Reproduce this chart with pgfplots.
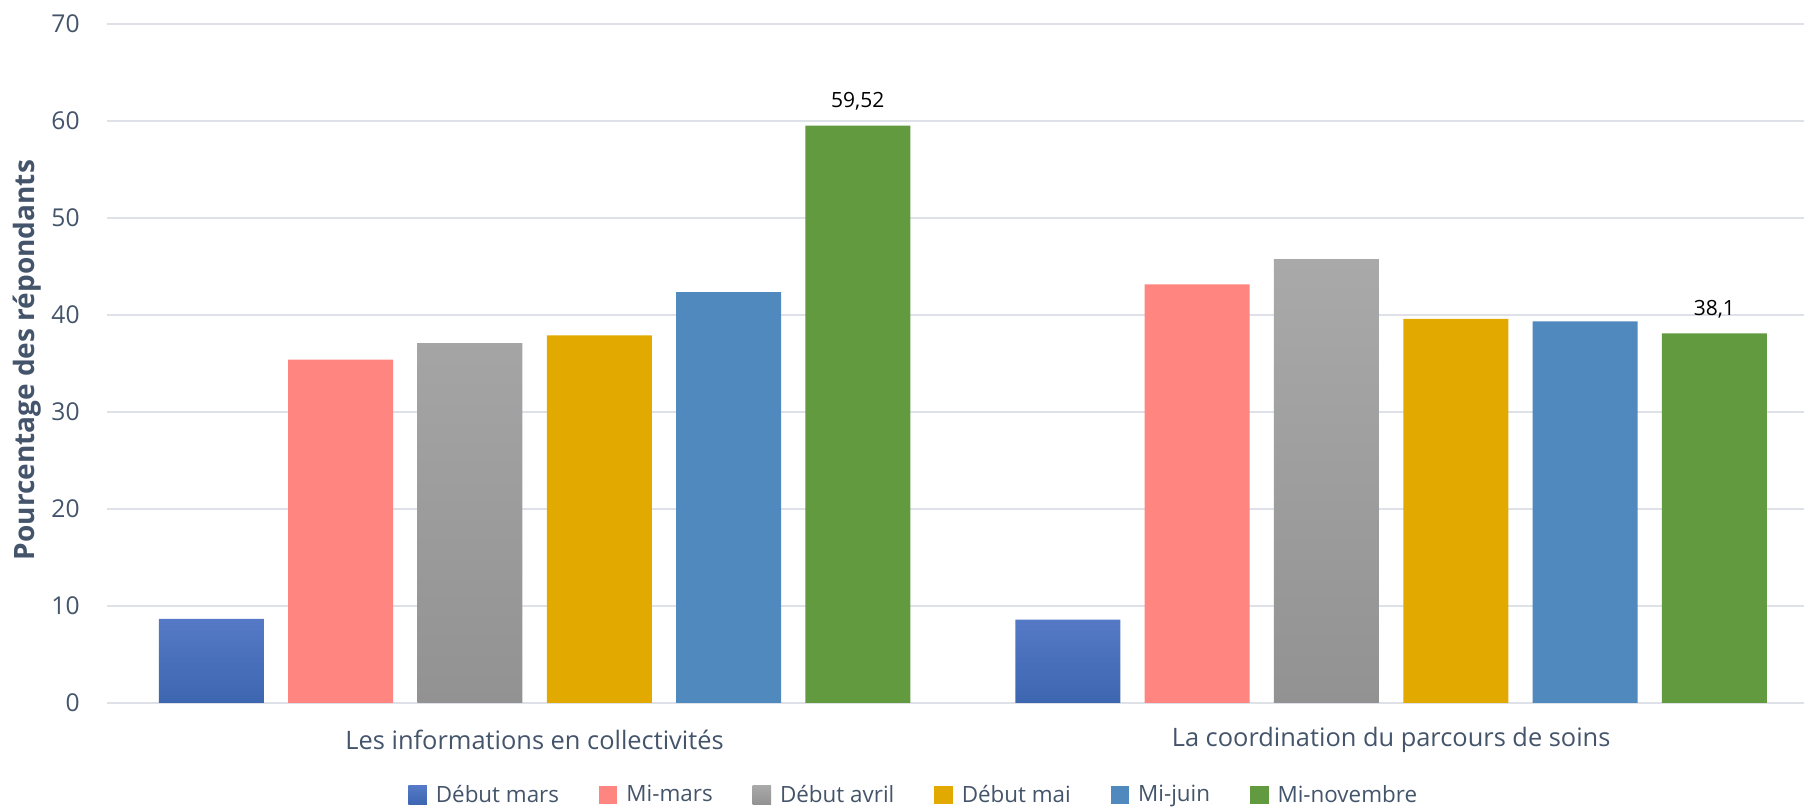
\documentclass[border=0pt]{standalone}
\usepackage{fontspec}
\setmainfont{Open Sans}
\usepackage{pgfplots}
\pgfplotsset{compat=1.18}

\definecolor{txt}{HTML}{44546A}
\definecolor{gridc}{HTML}{DEE2E8}
\definecolor{bluetop}{HTML}{5579C6}
\definecolor{bluebot}{HTML}{3D66B1}
\definecolor{pinkc}{HTML}{FF8580}
\definecolor{graytop}{HTML}{A9A9A9}
\definecolor{graybot}{HTML}{929292}
\definecolor{yellowc}{HTML}{E2AA00}
\definecolor{juinc}{HTML}{4F89BD}
\definecolor{greenc}{HTML}{629A3F}

\begin{document}
\begin{tikzpicture}
\begin{axis}[
  scale only axis,
  width=848.5pt, height=339.5pt,
  xmin=-0.4992, xmax=1.482,
  ymin=0, ymax=70,
  ybar, bar width=0.1226,
  xtick={0,1},
  xticklabels={Les informations en collectivités, La coordination du parcours de soins},
  ytick={0,10,...,70},
  axis line style={draw=none},
  major tick length=0pt,
  ymajorgrids,
  grid style={line width=1.2pt, gridc},
  /pgf/number format/assume math mode=true,
  tick label style={text=txt},
  yticklabel style={anchor=east, inner sep=0pt, xshift=-13.5pt, font=\fontsize{12.3}{14}\selectfont},
  xticklabel style={anchor=center, yshift=-18.5pt, font=\fontsize{12.7}{15}\selectfont},
  ylabel={Pourcentage des répondants},
  ylabel style={at={(axis description cs:-0.04714,0.505)}, anchor=center,
    text=txt, font=\bfseries\fontsize{14}{16}\selectfont},
  legend columns=6,
  legend style={draw=none, fill=none, at={(axis description cs:0.476,0)},
    yshift=-46pt, anchor=center, text=txt,
    font=\fontsize{11.2}{14}\selectfont,
    /tikz/every odd column/.append style={column sep=2.5pt},
    /tikz/every even column/.append style={column sep=18pt}},
  legend image code/.code={\path[#1, draw=none] (0pt,-4.6pt) rectangle (9.2pt,4.6pt);},
  legend entries={Début mars, Mi-mars, Début avril, Début mai, Mi-juin, Mi-novembre},
]
\addplot[draw=none, bar shift=-0.3773, top color=bluetop, bottom color=bluebot]
  coordinates {(0,8.66) (1,8.59)};
\addplot[draw=none, bar shift=-0.2264, fill=pinkc]
  coordinates {(0,35.4) (1,43.16)};
\addplot[draw=none, bar shift=-0.0755, top color=graytop, bottom color=graybot]
  coordinates {(0,37.1) (1,45.77)};
\addplot[draw=none, bar shift=0.0755, fill=yellowc]
  coordinates {(0,37.9) (1,39.59)};
\addplot[draw=none, bar shift=0.2264, fill=juinc]
  coordinates {(0,42.35) (1,39.35)};
\addplot[draw=none, bar shift=0.3773, fill=greenc,
  nodes near coords, point meta=explicit symbolic,
  every node near coord/.append style={anchor=center, yshift=12pt, text=black,
    font=\fontsize{10.5}{13}\selectfont}]
  coordinates {(0,59.52) [59,52] (1,38.1) [38,1]};
\end{axis}
\pgfresetboundingbox
\path[use as bounding box] (-53.5pt,-52.5pt) rectangle (848.5pt,351.5pt);
\end{tikzpicture}
\end{document}
